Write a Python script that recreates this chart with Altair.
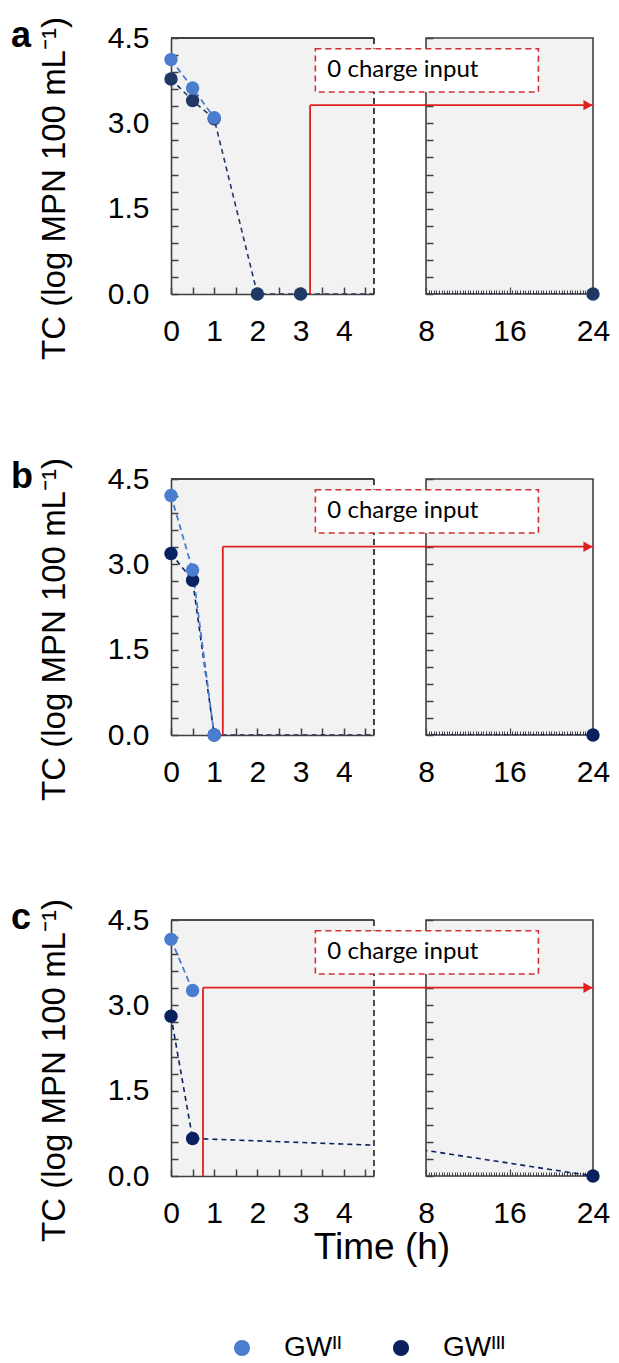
import altair as alt
import pandas as pd

FONT = "Liberation Sans"
BOX_FONT = "Lato"

# ---------------- data ----------------
A_II_T = [0, 0.5, 1]
A_II_V = [4.12, 3.62, 3.10]
A_III_T = [0, 0.5, 1, 2, 3, 24]
A_III_V = [3.78, 3.40, 3.08, 0.0, 0.0, 0.0]

B_II_T = [0, 0.5, 1]
B_II_V = [4.21, 2.90, 0.0]
B_III_T = [0, 0.5, 1, 24]
B_III_V = [3.19, 2.72, 0.0, 0.0]

C_II_T = [0, 0.5]
C_II_V = [4.16, 3.26]
C_III_T = [0, 0.5, 24]
C_III_V = [2.81, 0.66, 0.0]

PANEL_LABELS = ["a", "b", "c"]
CUT_TIME = [3.22, 1.20, 0.74]        # h, where the charge input stops
ARROW_LEVEL = [3.32, 3.31, 3.31]     # log MPN level of the red arrow
BOX_X = [-2.6, 18.77]                # annotation box, in right-panel hours
BOX_Y = [3.55, 4.31]
BOX_TEXT = "0 charge input"

Y_LABELS = [0.0, 1.5, 3.0, 4.5]
Y_MINOR = [0.0, 0.3, 0.6, 0.9, 1.2, 1.5, 1.8, 2.1, 2.4, 2.7, 3.0, 3.3, 3.6, 3.9, 4.2, 4.5]
X_LEFT_LABELS = [0, 1, 2, 3, 4]
X_LEFT_MINOR = [0, 0.5, 1, 1.5, 2, 2.5, 3, 3.5, 4, 4.5]
X_RIGHT_LABELS = [8, 16, 24]
X_RIGHT_MINOR = [8 + 0.25 * k for k in range(65)]
X_LEFT_DOMAIN = [0, 4.7]
X_RIGHT_DOMAIN = [8, 24]
Y_DOMAIN = [0, 4.5]

SERIES = ["GWᴵᴵ", "GWᴵᴵᴵ"]
Y_TITLE = "TC (log MPN 100 mL⁻¹)"
X_TITLE = "Time (h)"

# ---------------- styles / layout ----------------
W1, W2, H = 203, 167, 256
HSP, VSP = 52, 185
LIGHT = "#4A7CD0"
DARK = ["#1F3864", "#0A215F", "#0A215F"]
FRAME = "#404040"
FILL = "#F2F2F2"
RED = "#E0201E"
BOXRED = "#D03034"

xs_l = alt.Scale(domain=X_LEFT_DOMAIN, nice=False, zero=False)
xs_r = alt.Scale(domain=X_RIGHT_DOMAIN, nice=False, zero=False)
ys = alt.Scale(domain=Y_DOMAIN, nice=False)


def frame_df(t, v, s):
    return pd.DataFrame({"t": t, "v": v, "s": s})


def series_layers(df2, df3, dark, xs, keep):
    enc = dict(x=alt.X("t:Q", scale=xs, axis=None), y=alt.Y("v:Q", scale=ys, axis=None))
    l3 = alt.Chart(df3).mark_line(clip=True, strokeDash=[5, 4], strokeWidth=1.6, color=dark).encode(**enc)
    l2 = alt.Chart(df2).mark_line(clip=True, strokeDash=[6, 4], strokeWidth=1.8, color=LIGHT).encode(**enc)
    p3 = alt.Chart(df3[keep(df3.t)]).mark_circle(size=180, opacity=1, color=dark).encode(**enc)
    p2 = alt.Chart(df2[keep(df2.t)]).mark_circle(size=180, opacity=1, color=LIGHT).encode(**enc)
    return [l3, l2, p3, p2]


def left_chart(i, df2, df3, legend=False):
    inside = df3[df3.t <= X_LEFT_DOMAIN[1]]
    lab = alt.Chart(inside).mark_point(opacity=0).encode(
        x=alt.X("t:Q", scale=xs_l, axis=alt.Axis(
            orient="bottom", values=X_LEFT_LABELS, ticks=False, domain=True,
            domainColor=FRAME, domainWidth=1.6, grid=False, labelFontSize=30,
            labelFont=FONT, labelColor="black", labelPadding=22, title=None,
            labelFlush=False, labelOverlap=False)),
        y=alt.Y("v:Q", scale=ys, axis=alt.Axis(
            orient="left", values=Y_LABELS, format=".1f", ticks=False, domain=True,
            domainColor=FRAME, domainWidth=1.6, grid=False, labelFontSize=30,
            labelFont=FONT, labelColor="black", labelPadding=22, labelFlush=False,
            title=Y_TITLE, titleFont=FONT, titleFontSize=33, titleFontWeight="normal",
            titleColor="black", titlePadding=36, titleY=150)),
    )
    tck = alt.Chart(inside).mark_point(opacity=0).encode(
        x=alt.X("t:Q", scale=xs_l, axis=alt.Axis(
            orient="top", offset=-H, values=X_LEFT_MINOR, labels=False, domain=False,
            tickSize=7, tickColor=FRAME, tickWidth=1.5, grid=False, title=None)),
        y=alt.Y("v:Q", scale=ys, axis=alt.Axis(
            orient="right", offset=-W1, values=Y_MINOR, labels=False, domain=False,
            tickSize=7, tickColor=FRAME, tickWidth=1.5, grid=False, title=None)),
    )
    top = alt.Chart(inside).mark_rule(color=FRAME, strokeWidth=1.6).encode(
        y=alt.YDatum(Y_DOMAIN[1], scale=ys, axis=None))
    right = alt.Chart(inside).mark_rule(color=FRAME, strokeWidth=1.5, strokeDash=[6, 4]).encode(
        x=alt.XDatum(X_LEFT_DOMAIN[1], scale=xs_l, axis=None))
    t_end = X_LEFT_DOMAIN[1] + HSP * (X_LEFT_DOMAIN[1] - X_LEFT_DOMAIN[0]) / W1
    cut = pd.DataFrame({"t": [CUT_TIME[i]], "t2": [t_end], "y0": [0.0], "lvl": [ARROW_LEVEL[i]]})
    vrule = alt.Chart(cut).mark_rule(color=RED, strokeWidth=1.8).encode(
        x=alt.X("t:Q", scale=xs_l, axis=None), y=alt.Y("y0:Q", scale=ys, axis=None), y2="lvl:Q")
    hrule = alt.Chart(cut).mark_rule(color=RED, strokeWidth=1.8).encode(
        x=alt.X("t:Q", scale=xs_l, axis=None), x2="t2:Q", y=alt.Y("lvl:Q", scale=ys, axis=None))
    layers = [lab, tck, top, right] + series_layers(df2, df3, DARK[i], xs_l, lambda t: t <= X_LEFT_DOMAIN[1]) + [vrule, hrule]
    if legend:
        ldf = pd.DataFrame({"s": SERIES, "t": [0, 0], "v": [0, 0]})
        leg = alt.Chart(ldf).mark_point(opacity=0, filled=True).encode(
            x=alt.X("t:Q", scale=xs_l, axis=None), y=alt.Y("v:Q", scale=ys, axis=None),
            color=alt.Color("s:N", scale=alt.Scale(domain=SERIES, range=[LIGHT, DARK[2]]),
                            legend=alt.Legend(orient="none", legendX=57, legendY=1296,
                                              direction="horizontal", title=None, padding=0,
                                              symbolType="circle", symbolSize=260,
                                              symbolOpacity=1, symbolStrokeWidth=0,
                                              labelFontSize=28, labelFont=FONT,
                                              labelColor="black", labelOffset=28,
                                              columnPadding=45)))
        layers.append(leg)
    return alt.layer(*layers).resolve_axis(x="independent", y="independent").properties(
        width=W1, height=H,
        view=alt.ViewBackground(fill=FILL, stroke="transparent"),
        title=alt.TitleParams(PANEL_LABELS[i], anchor="start", frame="group", orient="top",
                              fontSize=36, fontWeight="bold", font=FONT, color="black",
                              dx=-160, dy=42),
    )


def right_chart(i, df2, df3, xtitle=False):
    inside = df3[df3.t >= X_RIGHT_DOMAIN[0]]
    lab = alt.Chart(inside).mark_point(opacity=0).encode(
        x=alt.X("t:Q", scale=xs_r, axis=alt.Axis(
            orient="bottom", values=X_RIGHT_LABELS, ticks=False, domain=False, grid=False,
            labelFontSize=30, labelFont=FONT, labelColor="black", labelPadding=22,
            title=None, labelFlush=False, labelOverlap=False)),
        y=alt.Y("v:Q", scale=ys, axis=None),
    )
    tk_minor = alt.Chart(inside).mark_point(opacity=0).encode(
        x=alt.X("t:Q", scale=xs_r, axis=alt.Axis(
            orient="top", offset=-H, values=X_RIGHT_MINOR, labels=False, domain=False,
            tickSize=4, tickColor=FRAME, tickWidth=1, grid=False, title=None)),
        y=alt.Y("v:Q", scale=ys, axis=alt.Axis(
            orient="right", offset=-W2, values=Y_MINOR, labels=False, domain=False,
            tickSize=7, tickColor=FRAME, tickWidth=1.5, grid=False, title=None)),
    )
    tk_major = alt.Chart(inside).mark_point(opacity=0).encode(
        x=alt.X("t:Q", scale=xs_r, axis=alt.Axis(
            orient="top", offset=-H, values=X_RIGHT_LABELS, labels=False, domain=False,
            tickSize=7, tickColor=FRAME, tickWidth=1.2, grid=False, title=None)),
        y=alt.Y("v:Q", scale=ys, axis=None),
    )
    arr = pd.DataFrame({"t": [X_RIGHT_DOMAIN[0]], "t2": [X_RIGHT_DOMAIN[1]], "lvl": [ARROW_LEVEL[i]]})
    hrule = alt.Chart(arr).mark_rule(color=RED, strokeWidth=1.8).encode(
        x=alt.X("t:Q", scale=xs_r, axis=None), x2="t2:Q", y=alt.Y("lvl:Q", scale=ys, axis=None))
    head = alt.Chart(arr).mark_point(shape="triangle-right", filled=True, size=110, color=RED,
                                     opacity=1, xOffset=-5).encode(
        x=alt.X("t2:Q", scale=xs_r, axis=None), y=alt.Y("lvl:Q", scale=ys, axis=None))
    box = pd.DataFrame({"x0": [BOX_X[0]], "x1": [BOX_X[1]], "y0": [BOX_Y[0]], "y1": [BOX_Y[1]],
                        "ym": [(BOX_Y[0] + BOX_Y[1]) / 2], "txt": [BOX_TEXT]})
    rect = alt.Chart(box).mark_rect(fill="white", stroke=BOXRED, strokeWidth=1.6,
                                    strokeDash=[6, 4]).encode(
        x=alt.X("x0:Q", scale=xs_r, axis=None), x2="x1:Q",
        y=alt.Y("y0:Q", scale=ys, axis=None), y2="y1:Q")
    txt = alt.Chart(box).mark_text(align="left", baseline="middle", font=BOX_FONT, fontSize=24,
                                   color="black", dx=12).encode(
        x=alt.X("x0:Q", scale=xs_r, axis=None), y=alt.Y("ym:Q", scale=ys, axis=None), text="txt:N")
    layers = [lab, tk_minor, tk_major] + series_layers(df2, df3, DARK[i], xs_r, lambda t: t >= X_RIGHT_DOMAIN[0]) + [hrule, head, rect, txt]
    props = dict(width=W2, height=H, view=alt.ViewBackground(fill=FILL, stroke=FRAME, strokeWidth=1.6))
    if xtitle:
        center_shift = (W1 + HSP + W2) / 2 - (W1 + HSP) - W2 / 2
        props["title"] = alt.TitleParams(X_TITLE, orient="bottom", anchor="middle", frame="group",
                                         fontSize=37, font=FONT, fontWeight="normal",
                                         color="black", dx=center_shift, offset=2)
    return alt.layer(*layers).resolve_axis(x="independent", y="independent").properties(**props)


data = [
    (frame_df(A_II_T, A_II_V, "II"), frame_df(A_III_T, A_III_V, "III")),
    (frame_df(B_II_T, B_II_V, "II"), frame_df(B_III_T, B_III_V, "III")),
    (frame_df(C_II_T, C_II_V, "II"), frame_df(C_III_T, C_III_V, "III")),
]

cells = []
for i, (d2, d3) in enumerate(data):
    last = i == 2
    cells.append(left_chart(i, d2, d3, legend=last))
    cells.append(right_chart(i, d2, d3, xtitle=last))

chart = alt.concat(*cells, columns=2, spacing={"row": VSP, "column": HSP}, bounds="flush").properties(
    padding={"left": 2, "top": 8, "right": 0, "bottom": 0}
).configure_view(stroke="transparent").configure(background="white")

chart.save("out.html", embed_options={"renderer": "svg", "actions": False})
